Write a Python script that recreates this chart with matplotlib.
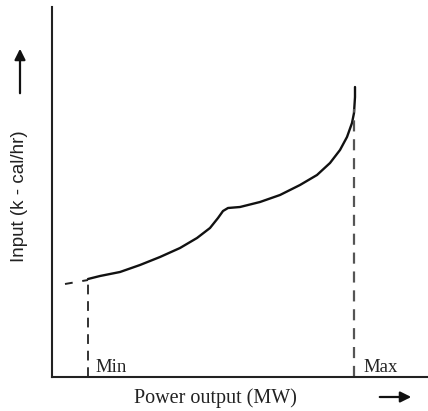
import matplotlib.pyplot as plt

# input-output curve (arbitrary units)
power_output = [36, 48, 68, 88, 108, 128, 145, 158, 166, 171, 176, 188, 208, 228,
                248, 265, 278, 288, 295, 300, 302, 303, 303]
heat_input = [98, 101, 105, 112, 120, 129, 139, 149, 159, 166, 169, 170, 175, 182,
              192, 202, 214, 227, 240, 254, 264, 280, 290]

lead_x = [13, 36]
lead_y = [93, 97]

p_min = 36
p_max = 302
min_top = 98
max_top = 268

W, H = 428, 411
fig = plt.figure(figsize=(W / 100, H / 100), dpi=100)
ax = fig.add_axes([52 / W, (H - 377) / H, (W - 52) / W, (377 - 7) / H])
ax.set_xlim(0, W - 52)
ax.set_ylim(0, 370)

ax.plot(power_output, heat_input, color='#111111', lw=1.7, solid_joinstyle='round',
        solid_capstyle='round')
ax.plot(lead_x, lead_y, color='#222222', lw=1.4, dashes=(4, 5))
ax.plot([p_min, p_min], [0, min_top], color='#333333', lw=1.4, dashes=(5, 3.5))
ax.plot([p_max, p_max], [0, max_top], color='#555555', lw=1.6, dashes=(5, 3.5))

ax.text(p_min + 7, 5, 'Min', fontsize=13.5, family='Liberation Serif', color='#222222')
ax.text(p_max + 9, 5, 'Max', fontsize=13.5, family='Liberation Serif', color='#222222')

for s in ['top', 'right']:
    ax.spines[s].set_visible(False)
for s in ['left', 'bottom']:
    ax.spines[s].set_linewidth(1.5)
    ax.spines[s].set_color('#222222')
ax.set_xticks([])
ax.set_yticks([])

fig.text(215 / W, (H - 398) / H, 'Power output (MW)', fontsize=14.5, family='Liberation Serif',
         ha='center', va='center', color='#222222')
fig.text(20 / W, (H - 196) / H, 'Input (k - cal/hr)', fontsize=13.5, family='Liberation Sans',
         rotation=90, ha='center', va='center', color='#222222')

arrow = dict(arrowstyle='-|>', color='#111111', lw=1.6, mutation_scale=16)
ax.annotate('', xy=(414, H - 397), xytext=(377, H - 397), xycoords='figure pixels',
            textcoords='figure pixels', arrowprops=arrow)
ax.annotate('', xy=(20, H - 46), xytext=(20, H - 96), xycoords='figure pixels',
            textcoords='figure pixels', arrowprops=arrow)

fig.savefig('out.png', dpi=100)
